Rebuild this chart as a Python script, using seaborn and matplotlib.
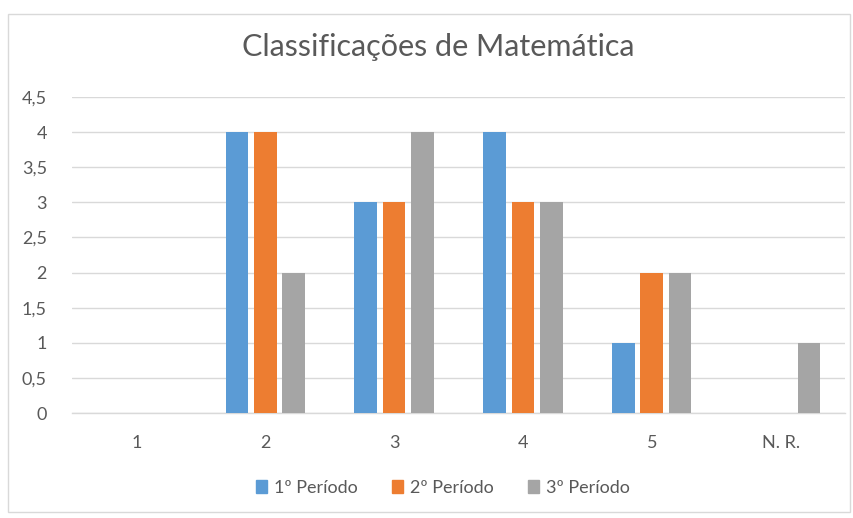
import matplotlib
matplotlib.use("Agg")
import matplotlib.pyplot as plt
import matplotlib.patches as mpatches
import seaborn as sns
import pandas as pd

categories = ["1", "2", "3", "4", "5", "N. R."]
series_names = ["1º Período", "2º Período", "3º Período"]
periodo1 = [0, 4, 3, 4, 1, 0]
periodo2 = [0, 4, 3, 3, 2, 0]
periodo3 = [0, 2, 4, 3, 2, 1]
y_ticks = [0, 0.5, 1, 1.5, 2, 2.5, 3, 3.5, 4, 4.5]
y_tick_labels = ["0", "0,5", "1", "1,5", "2", "2,5", "3", "3,5", "4", "4,5"]
colors = ["#5B9BD5", "#ED7D31", "#A5A5A5"]

rows = []
for name, vals in zip(series_names, [periodo1, periodo2, periodo3]):
    for c, v in zip(categories, vals):
        rows.append({"Classificação": c, "Período": name, "Valor": v})
df = pd.DataFrame(rows)

sns.set_theme(style="white")
plt.rcParams["font.family"] = ["Lato", "DejaVu Sans"]
text_color = "#595959"

fig = plt.figure(figsize=(8.54, 5.18), dpi=100)
ax = fig.add_axes([72 / 854, 1 - 413 / 518, (845 - 72) / 854, (413 - 97) / 518])

sns.barplot(data=df, x="Classificação", y="Valor", hue="Período",
            order=categories, hue_order=series_names, palette=colors,
            saturation=1, width=0.66, gap=0.2, linewidth=0, ax=ax,
            legend=False, zorder=3)

ax.set_ylim(0, 4.5)
ax.set_xlim(-0.5, len(categories) - 0.5)
ax.set_yticks(y_ticks)
ax.set_yticklabels(y_tick_labels)
ax.yaxis.grid(True, color="#D9D9D9", linewidth=1)
ax.set_axisbelow(True)
for s in ["top", "right", "left"]:
    ax.spines[s].set_visible(False)
ax.spines["bottom"].set_color("#D9D9D9")
ax.spines["bottom"].set_linewidth(1)
ax.tick_params(axis="both", length=0, colors=text_color, labelsize=13)
ax.tick_params(axis="y", pad=18)
ax.tick_params(axis="x", pad=16)
ax.set_xlabel("")
ax.set_ylabel("")

fig.text(438 / 854, 1 - 47 / 518, "Classificações de Matemática",
         ha="center", va="center", fontsize=22, color=text_color)

handles = [mpatches.Patch(color=c, label=n) for c, n in zip(colors, series_names)]
fig.legend(handles=handles, loc="center", bbox_to_anchor=(443 / 854, 1 - 488 / 518),
           ncol=3, frameon=False, handlelength=0.6, handleheight=0.7,
           handletextpad=0.4, columnspacing=1.9, fontsize=13,
           labelcolor=text_color)

border = mpatches.Rectangle((8 / 854, 1 - 512 / 518), (850 - 8) / 854, (512 - 14) / 518,
                            transform=fig.transFigure, fill=False,
                            edgecolor="#D9D9D9", linewidth=1)
fig.patches.append(border)

fig.savefig("out.png", dpi=100)
